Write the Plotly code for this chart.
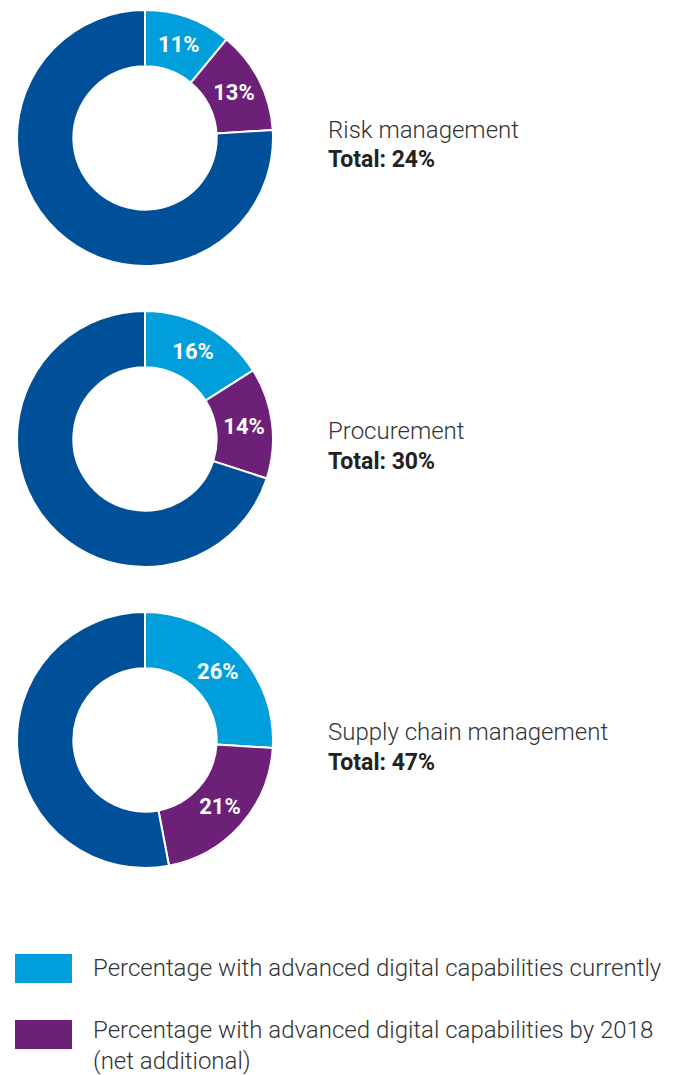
import plotly.graph_objects as go

# dados
areas = ["Risk management", "Procurement", "Supply chain management"]
atual = [11, 16, 26]
adicional = [13, 14, 21]
totais = [24, 30, 47]

legenda = [
    "Percentage with advanced digital capabilities currently",
    "Percentage with advanced digital capabilities by 2018<br>(net additional)",
]

cor_atual = "#009FDB"
cor_adicional = "#6D2077"
cor_resto = "#005099"

# a página tem margem de 8px no body
OFF = 8
W, H = 686 - OFF, 1075 - OFF
fonte = "Roboto"


def px(x):
    return (x - OFF) / W


def py(y):
    return 1 - (y - OFF) / H


fig = go.Figure()

centros_y = [138, 439, 740]
raio = 128
cx = 145

for i, area in enumerate(areas):
    valores = [atual[i], adicional[i], 100 - totais[i]]
    textos = [f"{atual[i]}%", f"{adicional[i]}%", ""]
    cy = centros_y[i]
    fig.add_trace(go.Pie(
        values=valores,
        text=textos,
        textinfo="text",
        textposition="inside",
        insidetextorientation="horizontal",
        insidetextfont=dict(color="white", size=22, family=fonte, weight="bold"),
        marker=dict(colors=[cor_atual, cor_adicional, cor_resto],
                    line=dict(color="white", width=2)),
        hole=0.56,
        sort=False,
        direction="clockwise",
        rotation=0,
        showlegend=False,
        hoverinfo="skip",
        domain=dict(x=[px(cx - raio), px(cx + raio)],
                    y=[py(cy + raio), py(cy - raio)]),
    ))
    fig.add_annotation(
        x=px(326), y=py(cy - 8), xref="paper", yref="paper",
        xanchor="left", yanchor="middle", showarrow=False,
        text=area, font=dict(size=24, color="#333333", family=fonte, weight=300),
    )
    fig.add_annotation(
        x=px(326), y=py(cy + 22), xref="paper", yref="paper",
        xanchor="left", yanchor="middle", showarrow=False,
        text=f"<b>Total: {totais[i]}%</b>", font=dict(size=23, color="#222222", family=fonte),
    )

# legenda manual
for txt, cor, y0, ytxt in zip(legenda, [cor_atual, cor_adicional], [954, 1020], [952, 1014]):
    fig.add_shape(type="rect", xref="paper", yref="paper",
                  x0=px(15), x1=px(72), y0=py(y0 + 29), y1=py(y0),
                  fillcolor=cor, line=dict(width=0))
    fig.add_annotation(
        x=px(91), y=py(ytxt), xref="paper", yref="paper",
        xanchor="left", yanchor="top", align="left", showarrow=False,
        text=txt, font=dict(size=24, color="#333333", family=fonte, weight=300),
    )

fig.update_layout(
    width=W, height=H,
    margin=dict(l=0, r=0, t=0, b=0),
    paper_bgcolor="white", plot_bgcolor="white",
)

fig.write_html("out.html")
